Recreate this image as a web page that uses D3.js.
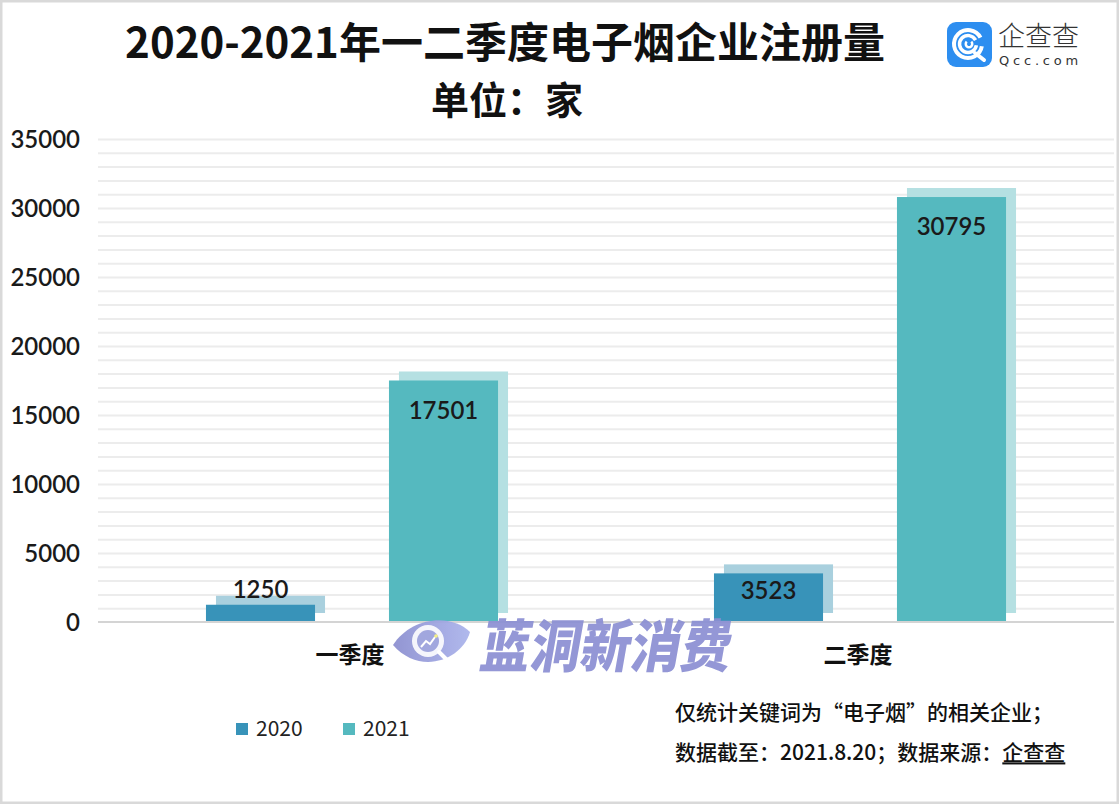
<!DOCTYPE html>
<html>
<head>
<meta charset="utf-8">
<script src="https://cdn.jsdelivr.net/npm/d3@7"></script>
<style>
  html, body { margin: 0; padding: 0; background: #fff; }
  svg { display: block; }
</style>
</head>
<body>
<svg id="chart" width="1119" height="804"></svg>
<script>
// ---- data ----
const categories = ["一季度", "二季度"];
const seriesNames = ["2020", "2021"];
const values2020 = [1250, 3523];
const values2021 = [17501, 30795];
const yTicks = [0, 5000, 10000, 15000, 20000, 25000, 30000, 35000];
const titleText = "2020-2021年一二季度电子烟企业注册量";
const subtitleText = "单位：家";
const noteLines = ["仅统计关键词为“电子烟”的相关企业；", "数据截至：2021.8.20；数据来源："];
const noteSource = "企查查";
const watermarkText = "蓝洞新消费";

const colors = { "2020": "#3893b9", "2021": "#55b9bf" };
const shadowColors = { "2020": "#a9d0de", "2021": "#b5e0e2" };

const svg = d3.select("#chart");
const W = 1119, H = 804;
const cjk = "'Noto Sans CJK SC', 'Noto Sans', sans-serif";
const num = "Lato, 'Noto Sans', sans-serif";

svg.append("rect").attr("x", 0).attr("y", 0).attr("width", W).attr("height", H).attr("fill", "#fff");

// scales
const plotLeft = 98, plotRight = 1114, baseY = 622, topY = 139;
const y = d3.scaleLinear().domain([0, 35000]).range([baseY, topY]);
const x0 = d3.scaleBand().domain(categories).range([plotLeft, plotRight]).padding(0);
const x1 = d3.scaleBand().domain(seriesNames).range([0, x0.bandwidth()])
  .paddingInner(0.404).paddingOuter(0.59);

// gridlines every 1000
const gridTicks = d3.range(1000, 35001, 1000);
svg.append("g").attr("transform", `translate(${plotLeft},0)`)
  .call(d3.axisLeft(y).tickValues(gridTicks).tickSize(-(plotRight - plotLeft)).tickFormat(""))
  .call(g => g.select(".domain").remove())
  .call(g => g.selectAll("line").attr("stroke", "#ececec").attr("stroke-width", 2));

// y tick labels
svg.append("g").attr("transform", `translate(80,0)`)
  .call(d3.axisLeft(y).tickValues(yTicks).tickSize(0).tickPadding(0).tickFormat(d3.format("d")))
  .call(g => g.select(".domain").remove())
  .call(g => g.selectAll("text").attr("font-family", num).attr("font-size", 24)
    .attr("font-weight", 600).attr("fill", "#1a1a1a").attr("dy", "0.35em"));

// bars data
const rows = [];
categories.forEach((c, i) => {
  rows.push({ cat: c, s: "2020", v: values2020[i] });
  rows.push({ cat: c, s: "2021", v: values2021[i] });
});

const bars = svg.append("g");
// shadows
bars.selectAll("rect.shadow").data(rows).join("rect").attr("class", "shadow")
  .attr("x", d => x0(d.cat) + x1(d.s) + 10)
  .attr("y", d => y(d.v) - 9)
  .attr("width", x1.bandwidth())
  .attr("height", d => baseY - y(d.v))
  .attr("fill", d => shadowColors[d.s]);
// bars
bars.selectAll("rect.bar").data(rows).join("rect").attr("class", "bar")
  .attr("x", d => x0(d.cat) + x1(d.s))
  .attr("y", d => y(d.v))
  .attr("width", x1.bandwidth())
  .attr("height", d => baseY - y(d.v))
  .attr("fill", d => colors[d.s]);

// baseline
svg.append("line").attr("x1", plotLeft).attr("x2", plotRight).attr("y1", baseY).attr("y2", baseY)
  .attr("stroke", "#d4d4d4").attr("stroke-width", 2);

// value labels
bars.selectAll("text.val").data(rows).join("text").attr("class", "val")
  .attr("x", d => x0(d.cat) + x1(d.s) + x1.bandwidth() / 2)
  .attr("y", d => {
    const top = y(d.v), h = baseY - top;
    if (h < 35) return top - 15;
    return Math.min(top + 30, (top + baseY) / 2 - 7);
  })
  .attr("dy", "0.35em")
  .attr("text-anchor", "middle")
  .attr("font-family", num).attr("font-size", 24).attr("font-weight", 600)
  .attr("fill", "#1a1a1a")
  .text(d => d.v);

// category labels
svg.append("g").selectAll("text").data(categories).join("text")
  .attr("x", d => x0(d) + x0.bandwidth() / 2 - 2)
  .attr("y", 655).attr("dy", "0.35em")
  .attr("text-anchor", "middle")
  .attr("font-family", cjk).attr("font-size", 23).attr("font-weight", 700)
  .attr("fill", "#111").text(d => d);

// watermark
const wm = svg.append("g").attr("opacity", 0.92);
const grad = svg.append("defs").append("linearGradient").attr("id", "eyeg")
  .attr("x1", "0").attr("x2", "1").attr("y1", "0").attr("y2", "0");
grad.append("stop").attr("offset", "0").attr("stop-color", "#8a8dcf");
grad.append("stop").attr("offset", "1").attr("stop-color", "#aab3ec");
wm.append("path")
  .attr("d", "M393,645 C410,618 450,612 470,632 C462,660 420,676 393,645 Z")
  .attr("fill", "url(#eyeg)");
wm.append("circle").attr("cx", 428).attr("cy", 641).attr("r", 16).attr("fill", "#fff").attr("opacity", 0.9);
wm.append("circle").attr("cx", 428).attr("cy", 641).attr("r", 11).attr("fill", "#9aa0dc");
wm.append("line").attr("x1", 439).attr("y1", 652).attr("x2", 447).attr("y2", 660)
  .attr("stroke", "#fff").attr("stroke-width", 4).attr("stroke-linecap", "round");
wm.append("polyline").attr("points", "421,647 426,641 430,644 435,637")
  .attr("fill", "none").attr("stroke", "#fff").attr("stroke-width", 2);
wm.append("circle").attr("cx", 436).attr("cy", 636).attr("r", 1.8).attr("fill", "#f5f07a");
wm.append("text")
  .attr("transform", "translate(478,667) skewX(-10) scale(0.88,1)")
  .attr("font-family", cjk).attr("font-size", 57).attr("font-weight", 900)
  .attr("fill", "#8b8fd3").text(watermarkText);

// title + subtitle
svg.append("text").attr("x", 505).attr("y", 58).attr("text-anchor", "middle")
  .attr("font-family", cjk).attr("font-size", 42).attr("font-weight", 700)
  .attr("fill", "#111").text(titleText);
svg.append("text").attr("x", 507).attr("y", 114).attr("text-anchor", "middle")
  .attr("font-family", cjk).attr("font-size", 38).attr("font-weight", 700)
  .attr("fill", "#111").text(subtitleText);

// logo
const logo = svg.append("g");
logo.append("rect").attr("x", 947).attr("y", 22).attr("width", 45).attr("height", 45).attr("rx", 9)
  .attr("fill", "#2d8ef0");
const arc = d3.arc();
[[14, 4], [8.5, 3.5]].forEach(([r, w]) => {
  logo.append("path").attr("transform", "translate(968,44)")
    .attr("d", arc({ innerRadius: r - w / 2, outerRadius: r + w / 2, startAngle: 0.55 * Math.PI, endAngle: 2.35 * Math.PI }))
    .attr("fill", "#fff");
});
logo.append("path").attr("transform", "translate(969,44)")
  .attr("d", arc({ innerRadius: 2, outerRadius: 4.5, startAngle: 0.25 * Math.PI, endAngle: 1.75 * Math.PI }))
  .attr("fill", "#fff");
logo.append("line").attr("x1", 975).attr("y1", 53).attr("x2", 984).attr("y2", 60)
  .attr("stroke", "#fff").attr("stroke-width", 4).attr("stroke-linecap", "round");
logo.append("text").attr("x", 998).attr("y", 46).attr("font-family", cjk).attr("font-size", 27)
  .attr("font-weight", 300).attr("fill", "#333").text("企查查");
logo.append("text").attr("x", 999).attr("y", 65).attr("font-family", "'DejaVu Sans', sans-serif").attr("font-size", 13)
  .attr("letter-spacing", 3.8).attr("fill", "#333").text("Qcc.com");

// legend
const legend = svg.append("g");
const legX = [236, 343];
seriesNames.forEach((s, i) => {
  legend.append("rect").attr("x", legX[i]).attr("y", 723).attr("width", 12).attr("height", 12).attr("fill", colors[s]);
  legend.append("text").attr("x", legX[i] + 20).attr("y", 729).attr("dy", "0.35em")
    .attr("font-family", cjk).attr("font-size", 21).attr("fill", "#222").text(s);
});

// notes
svg.append("text").attr("x", 675).attr("y", 713).attr("dy", "0.35em")
  .attr("font-family", cjk).attr("font-size", 21).attr("font-weight", 500).attr("fill", "#111")
  .text(noteLines[0]);
const n2 = svg.append("text").attr("x", 675).attr("y", 753).attr("dy", "0.35em")
  .attr("font-family", cjk).attr("font-size", 21).attr("font-weight", 500).attr("fill", "#111");
n2.append("tspan").text(noteLines[1]);
n2.append("tspan").attr("text-decoration", "underline").text(noteSource);

// border
svg.append("rect").attr("x", 1).attr("y", 1).attr("width", W - 2).attr("height", H - 2)
  .attr("fill", "none").attr("stroke", "#d9d9d9").attr("stroke-width", 3);
</script>
</body>
</html>
